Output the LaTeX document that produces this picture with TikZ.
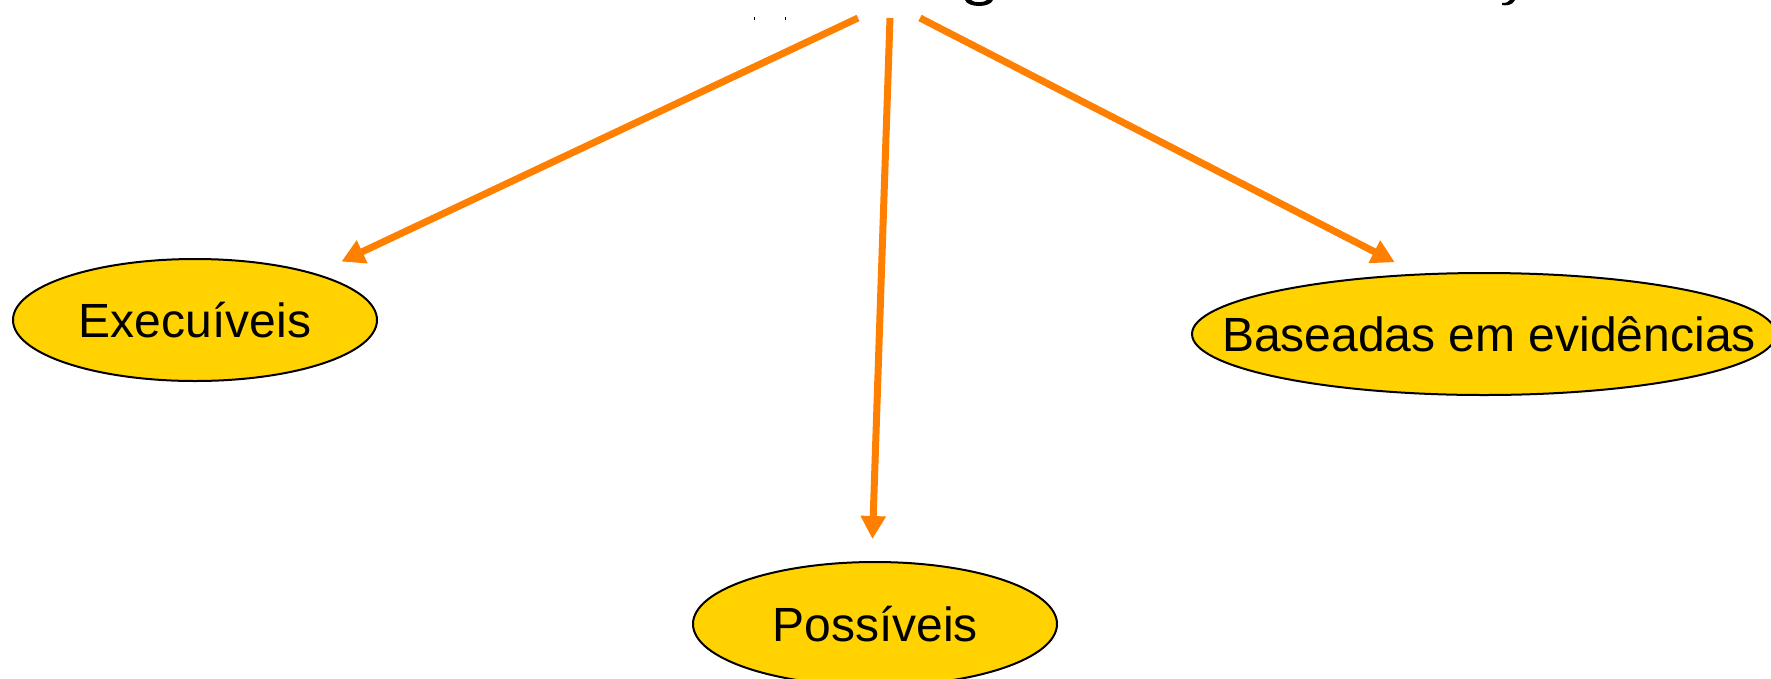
\documentclass[tikz,border=0pt]{standalone}
\usepackage{fontspec}
\setmainfont{Liberation Sans}
\usetikzlibrary{arrows.meta,shapes.geometric}
\definecolor{linkorange}{HTML}{FF7F00}
\definecolor{bubblegold}{HTML}{FFD200}
\tikzset{
  x=1pt, y=-1pt,
  bubble/.style={ellipse, draw=black, line width=2pt, fill=bubblegold,
    inner sep=0pt, font=\fontsize{48}{57}\selectfont},
  link/.style={draw=linkorange, line width=7pt,
    -{Triangle[length=23pt,width=24pt]}},
}
\begin{document}
\begin{tikzpicture}
\useasboundingbox (0,0) rectangle (1771,678);

% category bubbles
\node[bubble, minimum width=364pt, minimum height=122pt] (exec) at (195,320) {\makebox[0pt]{\raisebox{-2pt}{Execuíveis}}};
\node[bubble, minimum width=364pt, minimum height=124pt] (poss) at (875,624) {\makebox[0pt]{Possíveis}};
\node[bubble, minimum width=584pt, minimum height=122pt] (evid) at (1484,334) {\makebox[0pt]{\hspace*{10pt}\raisebox{-7pt}{Baseadas em evidências}}};

% origins of the links at the top edge
\coordinate (srcL) at (858,18);
\coordinate (srcM) at (890,18);
\coordinate (srcR) at (920,18);

\draw[link, shorten >=28pt] (srcL) -- (exec.21);
\draw[link, shorten >=22pt] (srcM) -- (poss.93);
\draw[link, shorten >=25pt] (srcR) -- (evid.138);

% descenders of the heading above the frame
\fill[black] (965,0) .. controls (968,8) and (990,8) .. (993,0) -- (987,0) .. controls (984,3) and (974,3) .. (971,0) -- cycle;
\fill[black] (1515,0) .. controls (1513,5) and (1506,6) .. (1502,5) -- (1502,3) .. controls (1506,3) and (1509,2) .. (1510,0) -- cycle;
\draw[black, line width=1pt] (754,17) -- (754,20);
\draw[black, line width=1pt] (785,17) -- (785,20);
\end{tikzpicture}
\end{document}
